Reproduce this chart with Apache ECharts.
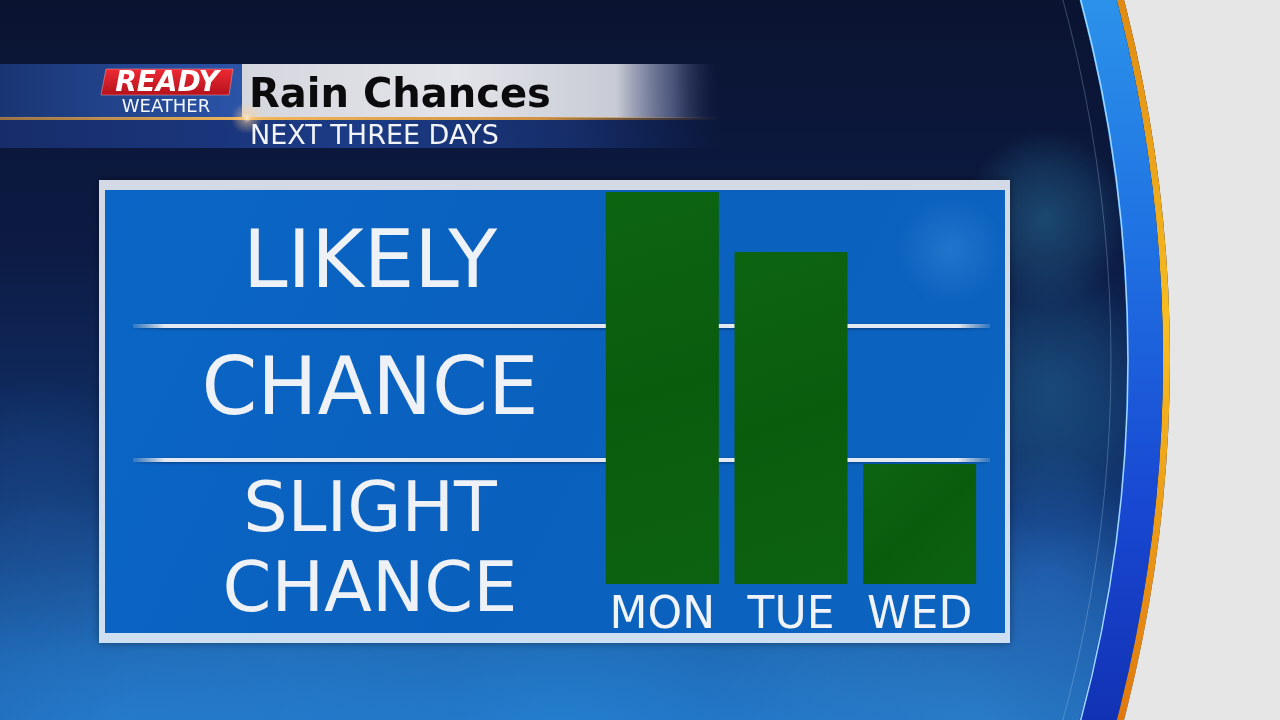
<!DOCTYPE html>
<html>
<head>
<meta charset="utf-8">
<script src="https://cdn.jsdelivr.net/npm/echarts@6/dist/echarts.min.js"></script>
<style>
html,body{margin:0;padding:0;background:#0b1736;overflow:hidden;}
#chart{width:1280px;height:720px;}
</style>
</head>
<body>
<div id="chart"></div>
<script>
// ---- data ----
const days = ['MON', 'TUE', 'WED'];
const rainLevel = [98, 83, 30];                 // bar heights on the 0-100 "chance" scale
const zoneLabels = ['SLIGHT\nCHANCE', 'CHANCE', 'LIKELY'];
const zoneEdges = [-12.5, 31, 64.5, 98.5];      // bounds of each zone on the same scale
const dividers = [31, 64.5];                    // white divider lines between zones
const titleText = 'Rain Chances';
const subtitleText = 'NEXT THREE DAYS';
const brandTop = 'READY';
const brandBottom = 'WEATHER';

// ---- style ----
const FONT = '"DejaVu Sans", "Liberation Sans", sans-serif';
const Y_MIN = -12.5, Y_MAX = 100;
const zoneFont = [70, 80, 80];
const zoneOffset = [[0, 6], [0, 0], [0, 8]];
const G = echarts.graphic;
const lin = (x0, y0, x1, y1, stops, global) =>
  new G.LinearGradient(x0, y0, x1, y1, stops.map(s => ({ offset: s[0], color: s[1] })), global);
const rad = (stops) =>
  new G.RadialGradient(0.5, 0.5, 0.5, stops.map(s => ({ offset: s[0], color: s[1] })));

const chart = echarts.init(document.getElementById('chart'), null, { renderer: 'canvas' });

function cloud(cx, cy, r, color, a, sx) {
  return {
    type: 'circle', z: -90, scaleX: sx || 1, x: cx, y: cy, originX: 0, originY: 0,
    shape: { cx: 0, cy: 0, r: r },
    style: { fill: rad([[0, `rgba(${color},${a})`], [0.55, `rgba(${color},${a * 0.55})`], [1, `rgba(${color},0)`]]) },
    silent: true
  };
}

const graphics = [
  // backdrop
  { type: 'rect', z: -100, shape: { x: 0, y: 0, width: 1280, height: 720 },
    style: { fill: lin(0, 0, 0, 1, [[0, '#0a1330'], [0.35, '#0c1b44'], [0.7, '#11356f'], [1, '#1b5fae']]) }, silent: true },
  cloud(120, 720, 230, '40,130,210', 0.75, 1.5),
  cloud(560, 730, 260, '40,140,220', 0.7, 1.8),
  cloud(980, 720, 200, '50,140,215', 0.6, 1.4),
  cloud(40, 520, 140, '30,80,150', 0.5, 1),
  cloud(1045, 220, 90, '40,110,150', 0.55, 0.9),
  cloud(1050, 390, 130, '35,105,150', 0.5, 0.8),
  cloud(1050, 580, 130, '40,110,200', 0.5, 0.8),
  // right-hand arc decoration
  { type: 'ring', z: -60, silent: true, shape: { cx: -262, cy: 360, r0: 1432, r: 3200 }, style: { fill: '#e6e6e6' } },
  { type: 'ring', z: -60, silent: true, shape: { cx: -262, cy: 360, r0: 1425, r: 1432 },
    style: { fill: lin(0, 0, 0, 720, [[0, '#e08a12'], [0.45, '#f7be22'], [1, '#e0780e']], true) } },
  { type: 'ring', z: -60, silent: true, shape: { cx: -262, cy: 360, r0: 1389, r: 1425 },
    style: { fill: lin(0, 0, 0, 720, [[0, '#2b92ea'], [0.35, '#1f70e2'], [0.7, '#1848d2'], [1, '#1232b4']], true) } },
  { type: 'circle', z: -59, silent: true, shape: { cx: -262, cy: 360, r: 1390 },
    style: { fill: 'none', stroke: '#9ed8ff', lineWidth: 1.5 } },
  { type: 'circle', z: -59, silent: true, shape: { cx: -262, cy: 360, r: 1373 },
    style: { fill: 'none', stroke: 'rgba(170,205,235,0.3)', lineWidth: 1 } },
  // chart panel
  { type: 'rect', z: -40, silent: true, shape: { x: 99, y: 180, width: 911, height: 463 },
    style: { fill: lin(0, 0, 0, 1, [[0, '#d3d9e5'], [1, '#cddff1']]), shadowColor: 'rgba(0,0,0,0.4)', shadowBlur: 8 } },
  { type: 'rect', z: -39, silent: true, shape: { x: 105, y: 190, width: 900, height: 443 },
    style: { fill: lin(0, 0, 1, 1, [[0, '#0a66c6'], [0.5, '#0a60bd'], [1, '#0c64c0']]) } },
  { type: 'circle', z: -38, silent: true, shape: { cx: 950, cy: 250, r: 55 },
    style: { fill: rad([[0, 'rgba(80,160,230,0.3)'], [1, 'rgba(80,160,230,0)']]) } },
  // header bars
  { type: 'rect', z: 10, silent: true, shape: { x: 0, y: 64, width: 242, height: 54 },
    style: { fill: lin(0, 0, 1, 0, [[0, '#1a3573'], [1, '#2b54a8']]) } },
  { type: 'rect', z: 10, silent: true, shape: { x: 242, y: 64, width: 480, height: 54 },
    style: { fill: lin(0, 0, 1, 0, [[0, '#d5d7de'], [0.45, '#e3e4e9'], [0.78, '#c8cbd5'], [0.9, 'rgba(100,110,150,0.7)'], [1, 'rgba(20,30,70,0)']]) } },
  { type: 'rect', z: 10, silent: true, shape: { x: 0, y: 120, width: 720, height: 28 },
    style: { fill: lin(0, 0, 1, 0, [[0, '#172d6a'], [0.5, '#1c3b86'], [0.8, 'rgba(28,59,134,0.6)'], [1, 'rgba(28,59,134,0)']]) } },
  { type: 'rect', z: 11, silent: true, shape: { x: 0, y: 117, width: 720, height: 3 },
    style: { fill: lin(0, 0, 1, 0, [[0, 'rgba(215,150,70,0.7)'], [0.34, '#f2b85a'], [0.75, '#cf9143'], [1, 'rgba(200,140,60,0)']]) } },
  { type: 'circle', z: 12, silent: true, shape: { cx: 247, cy: 118, r: 16 },
    style: { fill: rad([[0, 'rgba(255,240,210,0.95)'], [0.3, 'rgba(255,210,150,0.45)'], [1, 'rgba(255,200,140,0)']]) } },
  // logo
  { type: 'polygon', z: 12, silent: true, shape: { points: [[106, 69], [233, 69], [229, 95], [101, 95]] },
    style: { fill: lin(0, 0, 0, 1, [[0, '#ee2a34'], [1, '#b3121c']]), stroke: 'rgba(255,160,160,0.5)', lineWidth: 1 } },
  { type: 'text', z: 13, silent: true, x: 167, y: 84,
    style: { text: brandTop, fill: '#ffffff', font: 'italic bold 28px ' + FONT, align: 'center', verticalAlign: 'middle',
             shadowColor: 'rgba(60,0,0,0.8)', shadowBlur: 2, shadowOffsetX: 1, shadowOffsetY: 1 } },
  { type: 'text', z: 13, silent: true, x: 166, y: 107,
    style: { text: brandBottom, fill: '#f4f6fa', font: '18px ' + FONT, align: 'center', verticalAlign: 'middle' } },
  // titles
  { type: 'text', z: 13, silent: true, x: 249, y: 96.5,
    style: { text: titleText, fill: '#0b0b0d', font: 'bold 40px ' + FONT, align: 'left', verticalAlign: 'middle' } },
  { type: 'text', z: 13, silent: true, x: 250, y: 136.5,
    style: { text: subtitleText, fill: '#f2f4f8', font: '27px ' + FONT, align: 'left', verticalAlign: 'middle' } }
];

const option = {
  animation: false,
  backgroundColor: 'transparent',
  graphic: { elements: graphics },
  grid: [
    { left: 133, width: 474, top: 184, height: 450, containLabel: false, outerBoundsMode: 'none' },   // zone labels
    { left: 133, width: 857, top: 184, height: 450, containLabel: false, outerBoundsMode: 'none' },   // divider lines
    { left: 598, width: 386, top: 184, height: 400, containLabel: false, outerBoundsMode: 'none' }    // bars
  ],
  xAxis: [
    { type: 'value', gridIndex: 0, min: 0, max: 1, show: false },
    { type: 'value', gridIndex: 1, min: 0, max: 1, show: false },
    { type: 'category', gridIndex: 2, data: days,
      axisLine: { show: false }, axisTick: { show: false }, splitLine: { show: false },
      axisLabel: { color: '#f0f3f7', fontSize: 44, fontFamily: FONT, margin: 11, interval: 0 } }
  ],
  yAxis: [
    { type: 'value', gridIndex: 0, min: Y_MIN, max: Y_MAX, show: false },
    { type: 'value', gridIndex: 1, min: Y_MIN, max: Y_MAX, show: false },
    { type: 'value', gridIndex: 2, min: 0, max: Y_MAX, show: false }
  ],
  series: [
    {
      type: 'line', xAxisIndex: 0, yAxisIndex: 0, data: [], z: 3, silent: true,
      markArea: {
        silent: true,
        itemStyle: { color: 'rgba(0,0,0,0)' },
        label: { show: true, position: 'inside', color: '#eef1f5', fontFamily: FONT, fontWeight: 'normal' },
        data: zoneLabels.map((name, i) => [
          { name: name, yAxis: zoneEdges[i],
            label: { fontSize: zoneFont[i], lineHeight: zoneFont[i] + 10, offset: zoneOffset[i] } },
          { yAxis: zoneEdges[i + 1] }
        ])
      }
    },
    {
      type: 'line', xAxisIndex: 1, yAxisIndex: 1, data: [], z: 3, silent: true,
      markLine: {
        silent: true, symbol: ['none', 'none'], label: { show: false },
        lineStyle: {
          type: 'solid', width: 4,
          color: lin(0, 0, 1, 0, [[0, 'rgba(225,232,242,0.1)'], [0.04, '#e4e9f1'], [0.96, '#e4e9f1'], [1, 'rgba(225,232,242,0.1)']]),
          shadowColor: 'rgba(0,20,60,0.5)', shadowBlur: 3, shadowOffsetY: 1
        },
        data: dividers.map(v => ({ yAxis: v }))
      }
    },
    {
      type: 'bar', xAxisIndex: 2, yAxisIndex: 2, data: rainLevel, barWidth: 113, z: 5, silent: true,
      itemStyle: { color: lin(0, 0, 1, 1, [[0, '#0c6411'], [0.5, '#0a5c0d'], [1, '#0c6210']]) }
    }
  ]
};
chart.setOption(option);
</script>
</body>
</html>
